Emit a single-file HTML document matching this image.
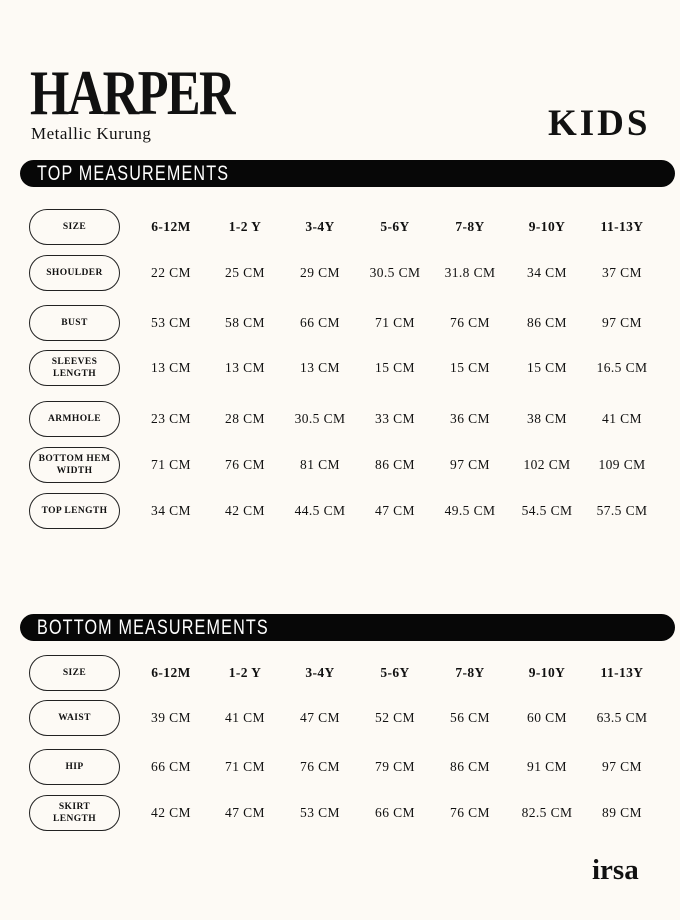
<!DOCTYPE html>
<html><head><meta charset="utf-8"><style>
*{margin:0;padding:0;box-sizing:border-box}
body{width:680px;height:920px;background:#fdfaf5;position:relative;overflow:hidden;font-family:"Liberation Serif",serif;color:#111}
.a{position:absolute}
.title{left:30px;top:58px;font-size:64px;font-weight:bold;letter-spacing:-2px;transform:scaleX(0.79);transform-origin:left;line-height:70px}
.sub{left:31px;top:124px;font-size:17px;letter-spacing:0.5px}
.kids{left:548px;top:104px;font-size:37px;font-weight:bold;letter-spacing:3px;line-height:40px}
.bar{left:20px;width:655px;height:27px;background:#070707;border-radius:14px}
.bar span{position:absolute;left:17px;top:2px;color:#fff;font-family:"Liberation Sans",sans-serif;font-size:21px;letter-spacing:1.5px;line-height:24px;transform:scaleX(0.77);transform-origin:left;display:inline-block;white-space:nowrap}
.pill{left:29px;width:91px;border:1.5px solid #222;border-radius:18px;display:flex;align-items:center;justify-content:center;text-align:center;font-size:9.5px;font-weight:bold;line-height:12px;letter-spacing:0.4px}
.c{width:90px;text-align:center;font-size:13.5px;line-height:16px;margin-left:-45px;letter-spacing:0.4px}
.h{font-weight:bold}
.logo{left:592px;top:854px;font-size:29px;font-weight:bold;line-height:32px}
</style></head><body>
<div class="a title">HARPER</div>
<div class="a sub">Metallic Kurung</div>
<div class="a kids">KIDS</div>
<div class="a bar" style="top:160px"><span>TOP MEASUREMENTS</span></div>
<div class="a bar" style="top:614px"><span>BOTTOM MEASUREMENTS</span></div>
<div class="a logo">irsa</div>
<div id="t"></div>
<script>
var cols=[171,245,320,395,470,547,622];
var rows=[["SIZE",227,["6-12M","1-2 Y","3-4Y","5-6Y","7-8Y","9-10Y","11-13Y"],1],
["SHOULDER",273,["22 CM","25 CM","29 CM","30.5 CM","31.8 CM","34 CM","37 CM"]],
["BUST",323,["53 CM","58 CM","66 CM","71 CM","76 CM","86 CM","97 CM"]],
["SLEEVES<br>LENGTH",368,["13 CM","13 CM","13 CM","15 CM","15 CM","15 CM","16.5 CM"]],
["ARMHOLE",419,["23 CM","28 CM","30.5 CM","33 CM","36 CM","38 CM","41 CM"]],
["BOTTOM HEM<br>WIDTH",465,["71 CM","76 CM","81 CM","86 CM","97 CM","102 CM","109 CM"]],
["TOP LENGTH",511,["34 CM","42 CM","44.5 CM","47 CM","49.5 CM","54.5 CM","57.5 CM"]],
["SIZE",673,["6-12M","1-2 Y","3-4Y","5-6Y","7-8Y","9-10Y","11-13Y"],1],
["WAIST",718,["39 CM","41 CM","47 CM","52 CM","56 CM","60 CM","63.5 CM"]],
["HIP",767,["66 CM","71 CM","76 CM","79 CM","86 CM","91 CM","97 CM"]],
["SKIRT<br>LENGTH",813,["42 CM","47 CM","53 CM","66 CM","76 CM","82.5 CM","89 CM"]]];
var h="";
rows.forEach(function(r){
h+='<div class="a pill" style="top:'+(r[1]-18)+'px;height:36px">'+r[0]+'</div>';
r[2].forEach(function(v,i){h+='<div class="a c'+(r[3]?' h':'')+'" style="left:'+cols[i]+'px;top:'+(r[1]-8)+'px">'+v+'</div>';});
});
document.getElementById('t').innerHTML=h;
</script>
</body></html>
